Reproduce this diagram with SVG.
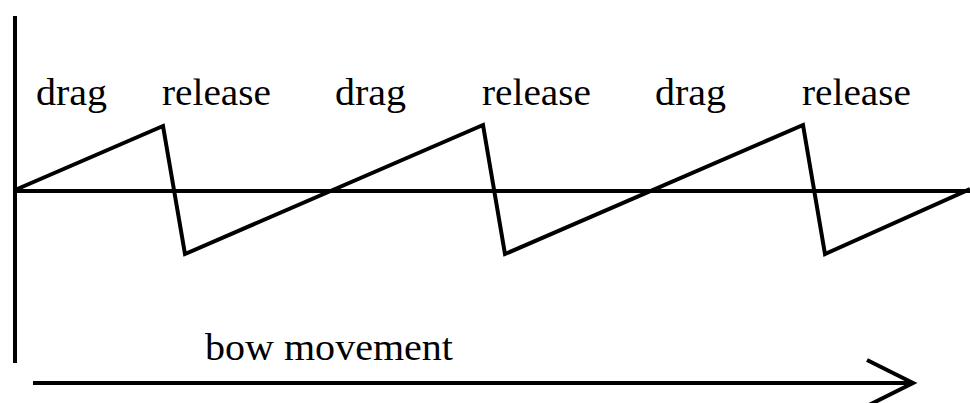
<svg xmlns="http://www.w3.org/2000/svg" width="970" height="403" viewBox="0 0 970 403">
<style>
.t{font-family:"Liberation Serif","Times New Roman",serif;font-size:38px;fill:#000}
.ln{stroke:#000;fill:none;stroke-width:4}
</style>
<rect width="970" height="403" fill="#fff"/>
<g id="connectors">
<line class="ln" x1="15" y1="16" x2="15" y2="363" stroke-width="5"/>
<line class="ln" x1="15" y1="191" x2="970" y2="191" stroke-width="3.5"/>
<polyline class="ln" stroke-linejoin="miter" points="15,190 163,126 185,254 483,125 505,254 803,125 825,254 970,189"/>
<line class="ln" x1="33" y1="383" x2="912" y2="383"/>
<polyline class="ln" points="867,360 913,383 867,406"/>
</g>
<g id="labels">
<text class="t" x="36" y="105" textLength="71" lengthAdjust="spacingAndGlyphs">drag</text>
<text class="t" x="162" y="105" textLength="109" lengthAdjust="spacingAndGlyphs">release</text>
<text class="t" x="335" y="105" textLength="71" lengthAdjust="spacingAndGlyphs">drag</text>
<text class="t" x="482" y="105" textLength="109" lengthAdjust="spacingAndGlyphs">release</text>
<text class="t" x="655" y="105" textLength="71" lengthAdjust="spacingAndGlyphs">drag</text>
<text class="t" x="802" y="105" textLength="109" lengthAdjust="spacingAndGlyphs">release</text>
<text class="t" x="205" y="360" textLength="248" lengthAdjust="spacingAndGlyphs">bow movement</text>
</g>
</svg>
